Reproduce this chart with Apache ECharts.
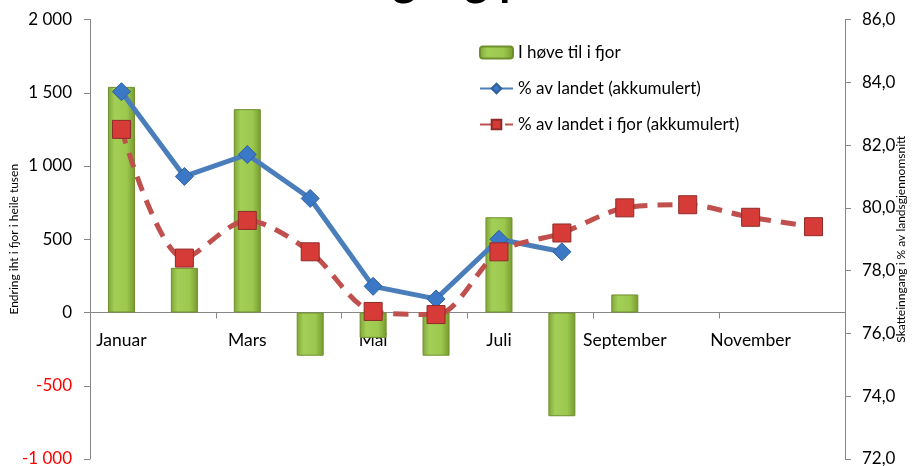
<!DOCTYPE html>
<html>
<head>
<meta charset="utf-8">
<script src="https://cdn.jsdelivr.net/npm/echarts@6/dist/echarts.min.js"></script>
<style>html,body{margin:0;padding:0;background:#fff;}#c{width:921px;height:466px;}</style>
</head>
<body>
<div id="c"></div>
<script>
var months = ['Januar','Februar','Mars','April','Mai','Juni','Juli','August','September','Oktober','November','Desember'];
var changeVsLastYear = [1540, 305, 1388, -295, -173, -295, 650, -708, 123, null, null, null];
var shareAccum = [83.7, 81.0, 81.7, 80.3, 77.5, 77.1, 79.0, 78.6, null, null, null, null];
var shareAccumLastYear = [82.5, 78.4, 79.6, 78.6, 76.7, 76.6, 78.6, 79.2, 80.0, 80.1, 79.7, 79.4];
var seriesNames = ['I høve til i fjor', '% av landet (akkumulert)', '% av landet i fjor (akkumulert)'];
var titleText = 'Skatteinngang pr. månad';
var leftMin = -1000, leftMax = 2000;

var FONT = 'Lato, "Open Sans", sans-serif';
var chart = echarts.init(document.getElementById('c'), null, {renderer: 'canvas'});

function fmtThousands(v) {
  var s = Math.abs(v).toString().replace(/\B(?=(\d{3})+(?!\d))/g, ' ');
  return (v < 0 ? '-' : '') + s;
}

var gridTop = 19.5, gridBottom = 7, H = 466;
var plotH = H - gridTop - gridBottom;
// move the category axis up so it sits on the left axis' zero line
var zeroOffset = -plotH * (0 - leftMin) / (leftMax - leftMin);

var barColor = new echarts.graphic.LinearGradient(0, 0, 1, 0, [
  {offset: 0, color: '#7fa536'},
  {offset: 0.25, color: '#a3cf57'},
  {offset: 0.7, color: '#9cc84e'},
  {offset: 1, color: '#76992f'}
]);

chart.setOption({
  animation: false,
  title: {
    text: titleText,
    left: 199,
    top: -47,
    textStyle: {fontFamily: FONT, fontSize: 45, fontWeight: 'bold', color: '#000'}
  },
  legend: {
    orient: 'vertical',
    left: 474,
    top: 39,
    itemGap: 19,
    itemWidth: 33,
    itemHeight: 12,
    textStyle: {fontFamily: FONT, fontSize: 17, color: '#000'},
    data: seriesNames
  },
  grid: {left: 90, right: 76, top: gridTop, bottom: gridBottom, containLabel: false, outerBoundsMode: 'none'},
  xAxis: {
    type: 'category',
    data: months,
    boundaryGap: true,
    offset: zeroOffset,
    axisLine: {onZero: false, lineStyle: {color: '#868686', width: 1}},
    axisTick: {show: true, inside: false, length: 6, lineStyle: {color: '#868686'}},
    axisLabel: {interval: 1, margin: 19, fontFamily: FONT, fontSize: 17.5, color: '#000'},
    splitLine: {show: false}
  },
  yAxis: [{
    type: 'value',
    min: leftMin, max: leftMax, interval: 500,
    name: 'Endring iht i fjor i heile tusen',
    nameLocation: 'middle',
    nameGap: 70,
    nameMoveOverlap: false,
    nameRotate: 90,
    nameTextStyle: {fontFamily: FONT, fontSize: 12, color: '#000'},
    axisLine: {show: true, lineStyle: {color: '#868686'}},
    axisTick: {show: true, length: 6, lineStyle: {color: '#868686'}},
    axisLabel: {
      margin: 18, fontFamily: FONT, fontSize: 17,
      formatter: function (v) { return fmtThousands(v); },
      color: function (v) { return Number(v) < 0 ? '#ff0000' : '#000'; }
    },
    splitLine: {show: false}
  }, {
    type: 'value',
    min: 72, max: 86, interval: 2,
    position: 'right',
    name: 'Skatteinngang i % av landsgjennomsnitt',
    nameLocation: 'middle',
    nameGap: 50,
    nameMoveOverlap: false,
    nameRotate: 90,
    nameTextStyle: {fontFamily: FONT, fontSize: 12, color: '#000'},
    axisLine: {show: true, lineStyle: {color: '#868686'}},
    axisTick: {show: true, length: 6, lineStyle: {color: '#868686'}},
    axisLabel: {
      margin: 17, fontFamily: FONT, fontSize: 17, color: '#000',
      formatter: function (v) { return v.toFixed(1).replace('.', ','); }
    },
    splitLine: {show: false}
  }],
  series: [{
    name: seriesNames[0],
    type: 'bar',
    yAxisIndex: 0,
    data: changeVsLastYear,
    barWidth: 27,
    itemStyle: {color: barColor, borderColor: '#6f8f2c', borderWidth: 1}
  }, {
    name: seriesNames[1],
    type: 'line',
    yAxisIndex: 1,
    data: shareAccum,
    symbol: 'diamond',
    symbolSize: 18,
    lineStyle: {color: '#4a7ebb', width: 5},
    itemStyle: {color: '#3b78c6', borderColor: '#2d5f9e', borderWidth: 1},
    z: 3
  }, {
    name: seriesNames[2],
    type: 'line',
    yAxisIndex: 1,
    data: shareAccumLastYear,
    smooth: 0.3,
    symbol: 'rect',
    symbolSize: 18,
    lineStyle: {color: '#c0504d', width: 5, type: [15, 10]},
    itemStyle: {color: '#d63b37', borderColor: '#8e2b28', borderWidth: 1},
    z: 4
  }]
});
</script>
</body>
</html>
